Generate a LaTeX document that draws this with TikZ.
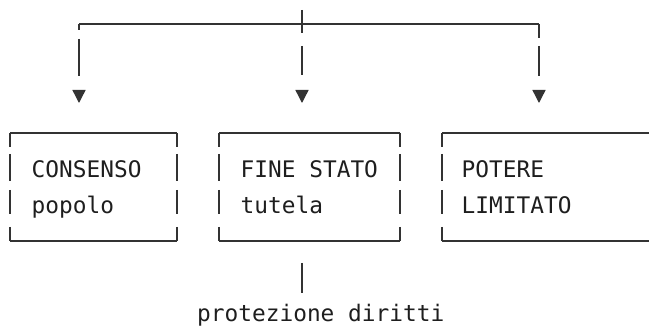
\documentclass[tikz,border=0pt]{standalone}
\usepackage{fontspec}
\setmonofont{DejaVu Sans Mono}
\usetikzlibrary{arrows.meta}
\definecolor{ink}{HTML}{1E1E1E}
\definecolor{rule}{HTML}{333333}
\tikzset{
  boxnode/.style={draw=none, minimum width=#1, minimum height=108pt, inner sep=0pt, outer sep=0pt},
  hside/.style={draw=rule, line width=1.4pt},
  vside/.style={draw=rule, line width=1.4pt, dash pattern=on 14pt off 7pt on 27pt off 9pt on 24pt off 13pt on 20pt},
  txt/.style={anchor=base west, inner sep=0pt, text=ink, font=\fontsize{22.8}{36}\selectfont\ttfamily},
  bus/.style={draw=rule, line width=1.4pt},
  branch/.style={draw=rule, line width=1.4pt, -{Triangle[length=13pt,width=13pt]}},
}
\begin{document}
\begin{tikzpicture}[x=1pt, y=-1pt]
\useasboundingbox (0,0) rectangle (649,334);
\clip (0,0) rectangle (649,334);
% boxes
\node[boxnode=167pt] (bL) at (93.5,187) {};
\node[boxnode=181pt] (bC) at (309.5,187) {};
\node[boxnode=230pt] (bR) at (557,187) {};
% texts
\node[txt] (t1a) at (31.5,178) {CONSENSO};
\node[txt] (t1b) at (31.5,214) {popolo};
\node[txt] (t2a) at (240.5,178) {FINE STATO};
\node[txt] (t2b) at (240.5,214) {tutela};
\node[txt] (t3a) at (461.5,178) {POTERE};
\node[txt] (t3b) at (461.5,214) {LIMITATO};
\node[txt] (note) at (197,322) {protezione diritti};
% box borders
\foreach \b in {bL,bC,bR}{
  \draw[hside] (\b.north west) -- (\b.north east);
  \draw[hside] (\b.south west) -- (\b.south east);
  \draw[vside] (\b.north west) -- (\b.south west);
}
\draw[vside] (bL.north east) -- (bL.south east);
\draw[vside] (bC.north east) -- (bC.south east);
% bus
\coordinate (top) at (302,10);
\coordinate (jL) at (79,24);
\coordinate (jR) at (539,24);
\coordinate (aL) at (79,103);
\coordinate (aC) at (302,103);
\coordinate (aR) at (539,103);
\draw[bus] (jL) -- (jR);
\draw[branch, dash pattern=on 6pt off 9pt on 37pt off 20pt] (jL) -- (aL);
\draw[branch, dash pattern=on 23pt off 13pt on 29pt off 20pt] (top) -- (aC);
\draw[branch, dash pattern=on 14pt off 8pt on 30pt off 20pt] (jR) -- (aR);
% link to note
\coordinate (nT) at (302,263);
\coordinate (nB) at (302,293);
\draw[bus] (nT) -- (nB);
\end{tikzpicture}
\end{document}
